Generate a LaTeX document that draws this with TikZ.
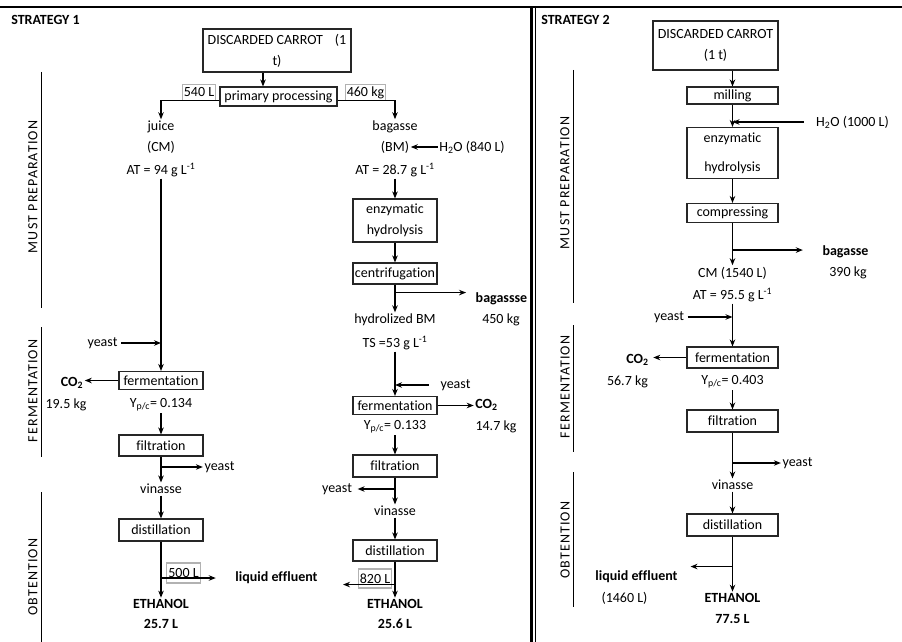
\documentclass[tikz,border=0pt]{standalone}
\usepackage{fontspec}
\setmainfont{Carlito}[Ligatures=NoCommon]
\newfontfamily\stagefont[LetterSpace=8,Ligatures=NoCommon]{Carlito}
\usetikzlibrary{arrows.meta}

\tikzset{
  box/.style={draw=black!85, line width=1.1pt, align=center, inner sep=1pt,
    minimum width=84pt, minimum height=21pt},
  txt/.style={inner sep=1.5pt, align=center},
  bold/.style={txt, font=\fontsize{14}{20}\selectfont\bfseries},
  qty/.style={draw=black!30, line width=1.3pt, inner sep=1.5pt, minimum height=16pt},
  flow/.style={->, line width=1.4pt},
  stage/.style={rotate=90, font=\stagefont\fontsize{14}{16}\selectfont},
  stageline/.style={line width=0.9pt},
}

\begin{document}
\begin{tikzpicture}[>={Stealth[length=7pt,width=5.5pt]}, x=1pt, y=-1pt,
  font=\fontsize{14}{21}\selectfont]
\useasboundingbox (0,0) rectangle (902,642);

% frame
\draw[line width=2pt] (0,7) -- (902,7);
\draw[line width=2.5pt] (531.5,7) -- (531.5,642);
\draw[line width=1pt] (535.5,7) -- (535.5,642);

% headings
\node[bold] (st1) at (45.5,20) {STRATEGY 1};
\node[bold] (st2) at (575.5,20) {STRATEGY 2};

% stages, strategy 1
\node[stage] (mp1) at (33,187) {MUST PREPARATION};
\draw[stageline] (41,72) -- (41,308);
\node[stage] (fm1) at (33,391) {FERMENTATION};
\draw[stageline] (41,327) -- (41,457);
\node[stage] (ob1) at (33,577) {OBTENTION};
\draw[stageline] (41,492) -- (41,642);

% stages, strategy 2
\node[stage] (mp2) at (565,183) {MUST PREPARATION};
\draw[stageline] (573,70) -- (573,303);
\node[stage] (fm2) at (565,387) {FERMENTATION};
\draw[stageline] (573,325) -- (573,452);
\node[stage] (ob2) at (565,540) {OBTENTION};
\draw[stageline] (573,472) -- (573,607);

% Strategy 1: raw material
\node[box, minimum width=148pt, minimum height=43pt] (car1) at (277,50.5)
    {DISCARDED CARROT\hspace{12pt}(1\\t)};
\node[box, minimum width=117pt, minimum height=19pt] (prim) at (278.5,96.5)
    {primary processing};
\coordinate (c1) at ([xshift=-14pt]car1.south);
\draw[flow] (c1) -- (c1 |- prim.north);

\node[qty] (q540) at (199,92.5) {540 L};
\node[qty] (q460) at (365.5,92.5) {460 kg};

% juice line
\node[txt] (juice) at (161,127) {juice};
\node[txt] (cm1) at (161,147) {(CM)};
\node[txt] (at1) at (161,170) {AT = 94 g L\textsuperscript{-1}};
\draw[flow] ([yshift=-4pt]prim.west) -| (juice.north);

\node[box, minimum height=18pt] (fer1) at (161,380.5) {fermentation};
\draw[flow] (at1.south) -- (fer1.north);
\node[txt] (yst1) at (102.5,343) {yeast};
\draw[flow, shorten <=2pt] (yst1.east) -- (yst1.east -| fer1.north);

\node[bold] (co1) at (72,383) {CO\textsubscript{2}};
\draw[flow] (fer1.west) -- (fer1.west -| co1.east);
\node[txt] (kg1) at (66,405) {19.5 kg};
\node[txt] (yp1) at (161,405) {Y\textsubscript{p/c}= 0.134};

\node[box] (fil1) at (161,445.5) {filtration};
\draw[flow] (yp1.south) -- (fil1.north);
\node[txt] (vin1) at (161,489) {vinasse};
\draw[flow] (fil1.south) -- (vin1.north);
\node[txt] (yst2) at (219.5,467) {yeast};
\draw[flow] (fil1.south |- yst2.west) -- (yst2.west);

\node[box, minimum height=22pt] (dis1) at (161,530) {distillation};
\draw[flow] (vin1.south) -- (dis1.north);
\node[qty, minimum height=20pt] (q500) at (183.5,573) {500 L};
\node[bold] (eth1) at (161,604) {ETHANOL};
\node[bold] (vol1) at (161,624) {25.7 L};
\draw[flow] (dis1.south) -- (eth1.north);
\node[bold] (eff1) at (276.5,578) {liquid effluent};
\draw[flow, shorten >=18pt] (dis1.south |- eff1.west) -- (eff1.west);

% bagasse line
\node[txt] (bag1) at (395,127) {bagasse};
\draw[flow] ([yshift=-4pt]prim.east) -| (bag1.north);
\node[txt] (bm1) at (395,147) {(BM)};
\node[txt] (h2o1) at (472,147) {H\textsubscript{2}O (840 L)};
\draw[flow] (h2o1.west) -- (bm1.east);
\node[txt] (at2) at (395,170) {AT = 28.7 g L\textsuperscript{-1}};

\node[box, minimum height=43pt] (enz1) at (395,220.5) {enzymatic\\hydrolysis};
\draw[flow] (at2.south) -- (enz1.north);
\node[box] (cen1) at (395,273.5) {centrifugation};
\draw[flow] (enz1.south) -- (cen1.north);

\node[txt] (hbm) at (395,320) {hydrolized BM};
\draw[flow] (cen1.south) -- (hbm.north);
\node[bold] (bgs2) at (501.5,299) {bagassse};
\node[txt] (kg2) at (501,320) {450 kg};
\coordinate (br2) at ([yshift=-8pt]cen1.south);
\draw[flow, shorten >=8pt] (br2) -- (br2 -| bgs2.west);
\node[txt] (ts1) at (395,343) {TS =53 g L\textsuperscript{-1}};

\node[box, minimum height=18pt] (fer2) at (395,405.5) {fermentation};
\draw[flow] (ts1.south) -- (fer2.north);
\node[txt] (yst3) at (455.5,385) {yeast};
\draw[flow, shorten <=10pt] (yst3.west) -- (yst3.west -| fer2.north);
\node[bold] (co2) at (486.5,405) {CO\textsubscript{2}};
\draw[flow] (fer2.east) -- (fer2.east -| co2.west);
\node[txt] (kg3) at (496,427) {14.7 kg};
\node[txt] (yp2) at (395,427) {Y\textsubscript{p/c}= 0.133};

\node[box, minimum height=22pt] (fil2) at (395,466) {filtration};
\draw[flow] (yp2.south) -- (fil2.north);
\node[txt] (vin2) at (395,511) {vinasse};
\draw[flow] (fil2.south) -- (vin2.north);
\node[txt] (yst4) at (337,489) {yeast};
\draw[flow, shorten >=4pt] (fil2.south |- yst4.east) -- (yst4.east);

\node[box] (dis2) at (395,550.5) {distillation};
\draw[flow] (vin2.south) -- (dis2.north);
\node[qty, minimum height=19pt] (q820) at (375,578.5) {820 L};
\node[bold] (eth2) at (395,604) {ETHANOL};
\node[bold] (vol2) at (395,624) {25.6 L};
\draw[flow] (dis2.south) -- (eth2.north);
\coordinate (br3) at ([yshift=-23pt]dis2.south);
\draw[flow] (br3) -- ++(-52,0);

% Strategy 2
\node[box, minimum width=125pt, minimum height=49pt] (car2) at (715.5,45.5)
    {DISCARDED CARROT\\(1 t)};
\node[box, minimum width=91pt, minimum height=17pt] (mil) at (732.5,95.5) {milling};
\draw[flow] (car2.south -| mil.north) -- (mil.north);
\node[box, minimum width=91pt, minimum height=51pt] (enz2) at (732.5,153)
    {enzymatic\\[8pt]hydrolysis};
\draw[flow] (mil.south) -- (enz2.north);
\node[txt] (h2o2) at (852.5,122) {H\textsubscript{2}O (1000 L)};
\draw[flow, shorten <=11pt] (h2o2.west) -- (h2o2.west -| mil.south);
\node[box, minimum width=91pt, minimum height=19pt] (com) at (732.5,213) {compressing};
\draw[flow] (enz2.south) -- (com.north);

\node[txt] (cm2) at (732.5,273) {CM (1540 L)};
\draw[flow] (com.south) -- (cm2.north);
\node[bold] (bag3) at (845.5,252) {bagasse};
\node[txt] (kg4) at (848,273) {390 kg};
\coordinate (br4) at ([yshift=-27pt]com.south);
\draw[flow, shorten >=18pt] (br4) -- (br4 -| bag3.west);
\node[txt] (at3) at (732.5,295) {AT = 95.5 g L\textsuperscript{-1}};

\node[box, minimum width=91pt] (fer3) at (732.5,357.5) {fermentation};
\draw[flow] (at3.south) -- (fer3.north);
\node[txt] (yst5) at (669,317) {yeast};
\draw[flow, shorten <=2pt] (yst5.east) -- (yst5.east -| fer3.north);
\node[bold] (co3) at (637.5,360) {CO\textsubscript{2}};
\draw[flow, shorten >=3pt] (fer3.west) -- (fer3.west -| co3.east);
\node[txt] (kg5) at (627.5,382) {56.7 kg};
\node[txt] (yp3) at (732.5,382) {Y\textsubscript{p/c}= 0.403};

\node[box, minimum width=91pt, minimum height=22pt] (fil3) at (732.5,421) {filtration};
\draw[flow] (yp3.south) -- (fil3.north);
\node[txt] (vin3) at (732.5,485) {vinasse};
\draw[flow] (fil3.south) -- (vin3.north);
\node[txt] (yst6) at (797.5,463) {yeast};
\draw[flow] (fil3.south |- yst6.west) -- (yst6.west);

\node[box, minimum width=91pt, minimum height=22pt] (dis3) at (732.5,525) {distillation};
\draw[flow] (vin3.south) -- (dis3.north);
\node[bold] (eth3) at (732.5,598) {ETHANOL};
\node[bold] (vol3) at (732.5,619) {77.5 L};
\draw[flow] (dis3.south) -- (eth3.north);
\node[bold] (eff2) at (636.5,577) {liquid effluent};
\node[txt] (v1460) at (624.5,598) {(1460 L)};
\coordinate (br5) at ([yshift=-30pt]dis3.south);
\draw[flow] (br5) -- ++(-42,0);

\end{tikzpicture}
\end{document}
